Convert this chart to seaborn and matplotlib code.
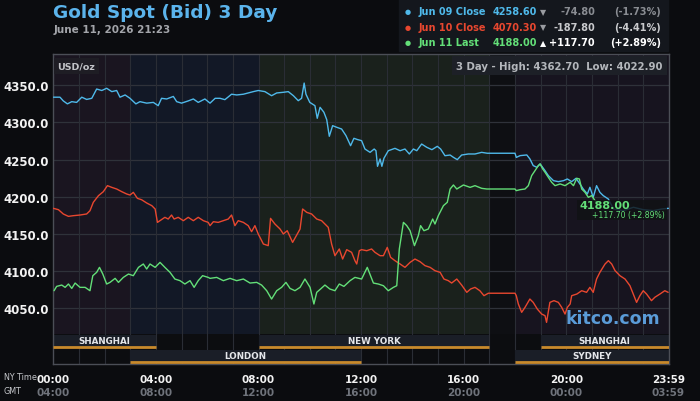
import matplotlib
matplotlib.use("Agg")
import matplotlib.pyplot as plt
import seaborn as sns
import pandas as pd
from matplotlib.patches import Rectangle

# --- data (hours after 00:00 NY time, price in USD/oz) ---
blue_hours = [0.0, 0.26, 0.39, 0.55, 0.72, 0.91, 1.11, 1.3, 1.5, 1.69, 1.89, 2.08, 2.28, 2.47, 2.6, 2.8, 2.99,
              3.22, 3.38, 3.64, 3.9, 4.09, 4.22, 4.42, 4.68, 4.81, 5.0, 5.26, 5.46, 5.65, 5.91, 6.11, 6.31, 6.5,
              6.69, 6.95, 7.15, 7.41, 7.8, 7.99, 8.25, 8.51, 8.71, 8.97, 9.16, 9.36, 9.55, 9.68, 9.78, 9.85, 10.0,
              10.2, 10.29, 10.4, 10.55, 10.66, 10.76, 10.89, 11.05, 11.24, 11.41, 11.59, 11.72, 11.86, 12.02, 12.15,
              12.35, 12.51, 12.58, 12.64, 12.74, 12.81, 12.89, 13.06, 13.32, 13.52, 13.71, 13.88, 14.04, 14.17,
              14.36, 14.56, 14.76, 14.97, 15.1, 15.27, 15.47, 15.6, 15.75, 15.92, 16.18, 16.44, 16.7, 16.92, 18.0,
              18.05, 18.2, 18.46, 18.58, 18.71, 18.85, 18.98, 19.17, 19.3, 19.5, 19.69, 19.89, 20.04, 20.21, 20.38,
              20.53, 20.66, 20.82, 20.92, 21.05, 21.18, 21.31, 21.44, 21.64, 21.84, 22.22, 22.62, 23.0, 23.39,
              23.72, 23.98]
blue_prices = [4334, 4334, 4329, 4325, 4328, 4327, 4334, 4331, 4332.5, 4345, 4343, 4346, 4341.5, 4343, 4334, 4337,
               4332.5, 4325, 4328, 4326, 4327, 4322.6, 4332.5, 4331.6, 4335, 4328, 4326, 4329, 4331.6, 4327, 4331.6,
               4326, 4332.5, 4332.5, 4330.7, 4338, 4337, 4338, 4341.5, 4343, 4341.5, 4336, 4339.7, 4340.6, 4341.5,
               4336, 4329.3, 4332.5, 4353, 4338, 4327, 4322.6, 4305.6, 4320.4, 4313.7, 4303.8, 4281.4, 4295.7,
               4293.5, 4291.2, 4282.3, 4268.8, 4278.7, 4277, 4275.5, 4264.3, 4259.8, 4264.3, 4262, 4241, 4250.9,
               4241, 4251.8, 4262, 4265.2, 4262, 4264.3, 4257.6, 4264.3, 4262, 4271, 4266.6, 4263.4, 4267.9, 4264.3,
               4255.3, 4256.2, 4253.1, 4250, 4256.2, 4257.6, 4257.6, 4259.8, 4258.6, 4258.6, 4253, 4255.4, 4256.3,
               4251, 4242, 4239.7, 4244.2, 4235.2, 4228.5, 4221.7, 4220.4, 4221.7, 4224, 4220.4, 4224.9, 4217.3,
               4210.5, 4203.8, 4212.8, 4199.3, 4215, 4206, 4201.6, 4197, 4183.6, 4181.4, 4185.9, 4182.7, 4181.4,
               4183.6, 4184.5]

red_hours = [0.0, 0.2, 0.39, 0.59, 0.78, 1.04, 1.3, 1.43, 1.56, 1.76, 1.95, 2.11, 2.28, 2.47, 2.67, 2.86, 2.99,
             3.12, 3.28, 3.44, 3.64, 3.84, 3.97, 4.06, 4.16, 4.35, 4.48, 4.61, 4.71, 4.87, 5.07, 5.26, 5.46, 5.65,
             5.85, 6.04, 6.11, 6.24, 6.43, 6.63, 6.82, 6.95, 7.08, 7.21, 7.41, 7.6, 7.73, 7.86, 7.99, 8.19, 8.38,
             8.47, 8.64, 8.84, 8.97, 9.12, 9.33, 9.49, 9.62, 9.72, 9.88, 10.07, 10.27, 10.46, 10.72, 10.85, 10.98,
             11.15, 11.28, 11.44, 11.63, 11.76, 11.83, 11.93, 12.02, 12.22, 12.41, 12.54, 12.74, 12.87, 13.02,
             13.15, 13.32, 13.52, 13.71, 13.91, 14.1, 14.3, 14.49, 14.69, 14.88, 15.08, 15.23, 15.4, 15.53, 15.73,
             15.92, 16.12, 16.27, 16.44, 16.63, 16.79, 16.96, 18.0, 18.05, 18.13, 18.26, 18.39, 18.58, 18.71,
             18.87, 19.04, 19.17, 19.23, 19.36, 19.52, 19.69, 19.82, 19.95, 20.04, 20.15, 20.21, 20.41, 20.6,
             20.79, 20.92, 21.05, 21.18, 21.31, 21.51, 21.64, 21.77, 21.9, 22.09, 22.29, 22.48, 22.61, 22.74,
             22.87, 23.0, 23.13, 23.32, 23.45, 23.65, 23.84, 23.97]
red_prices = [4184.5, 4182.7, 4176.9, 4173.7, 4174.6, 4175.5, 4176.9, 4181.3, 4192.6, 4201.5, 4206.9, 4215, 4212.7,
              4210.5, 4206.9, 4203.8, 4202.4, 4206, 4197.9, 4196.1, 4191.7, 4188.1, 4183.6, 4165.6, 4167.9, 4172.4,
              4170.1, 4175.5, 4170.1, 4172.4, 4167.9, 4172.4, 4167.9, 4172.4, 4167.9, 4165.6, 4161.2, 4166.5,
              4165.6, 4167.9, 4170.1, 4175.5, 4161.2, 4167.9, 4165.6, 4161.2, 4153.1, 4161.2, 4150, 4136.5, 4134.3,
              4171, 4163.4, 4156.7, 4150, 4154.4, 4138.7, 4148.6, 4156.7, 4183.6, 4179.1, 4176.9, 4170.1, 4167.9,
              4158.9, 4136.5, 4120.8, 4129.8, 4116.3, 4128.9, 4125.3, 4114.1, 4109.6, 4127.5, 4128.9, 4127.5,
              4129.8, 4125.3, 4120.8, 4120.8, 4132, 4118.6, 4114.1, 4109.6, 4105.1, 4111.8, 4116.3, 4112.7, 4107.4,
              4105.1, 4100.6, 4098.4, 4089.4, 4087.2, 4084, 4089.4, 4081.3, 4071.5, 4076, 4078.2, 4073.7, 4067,
              4070.3, 4070.3, 4067, 4055.8, 4044.6, 4051.3, 4062.5, 4058, 4049, 4042.3, 4040.1, 4031.1, 4058,
              4060.3, 4058, 4051.3, 4042.3, 4051.3, 4055.8, 4067, 4069.2, 4073.7, 4071.5, 4078.2, 4071.5, 4089.4,
              4098.4, 4109.6, 4114.1, 4109.6, 4100.7, 4093.9, 4089.4, 4080.5, 4069.2, 4058, 4067, 4073.7, 4069.2,
              4060.3, 4064.8, 4069.2, 4073.7, 4071.5]

green_hours = [0.03, 0.13, 0.33, 0.46, 0.59, 0.72, 0.85, 1.04, 1.24, 1.43, 1.54, 1.69, 1.8, 1.93, 2.08, 2.21, 2.41,
               2.54, 2.73, 2.93, 3.12, 3.32, 3.51, 3.64, 3.77, 3.97, 4.16, 4.35, 4.55, 4.74, 4.94, 5.13, 5.33, 5.49,
               5.65, 5.82, 6.04, 6.11, 6.37, 6.63, 6.89, 7.15, 7.41, 7.67, 7.93, 8.12, 8.32, 8.51, 8.71, 8.9, 9.07,
               9.23, 9.42, 9.62, 9.81, 10.01, 10.16, 10.27, 10.42, 10.59, 10.78, 10.98, 11.15, 11.33, 11.57, 11.76,
               12.02, 12.24, 12.48, 12.67, 12.87, 13.06, 13.26, 13.39, 13.49, 13.65, 13.78, 13.91, 14.08, 14.23,
               14.32, 14.45, 14.62, 14.79, 14.88, 15.01, 15.21, 15.36, 15.47, 15.6, 15.73, 15.99, 16.25, 16.44,
               16.7, 16.9, 18.0, 18.05, 18.2, 18.39, 18.52, 18.65, 18.78, 18.91, 18.98, 19.08, 19.17, 19.3, 19.43,
               19.56, 19.76, 19.95, 20.15, 20.28, 20.41, 20.51, 20.6, 20.73, 20.86, 20.99, 21.12, 21.25, 21.38]
green_prices = [4073.7, 4079.5, 4081.3, 4078.2, 4082.7, 4076.8, 4084, 4078.2, 4078.2, 4073.7, 4093.9, 4098.4,
                4105.1, 4096.1, 4082.7, 4084.9, 4090.3, 4084.9, 4091.6, 4096.1, 4093.9, 4105.1, 4109.6, 4102.9,
                4109.6, 4105.1, 4111.8, 4105.1, 4098.4, 4089.4, 4087.2, 4082.7, 4087.2, 4078.2, 4087.2, 4093.9,
                4091.6, 4090.3, 4091.6, 4087.2, 4090.3, 4087.2, 4089.4, 4084, 4084.9, 4081.3, 4073.7, 4062.5, 4073.7,
                4078.2, 4084.9, 4076.8, 4073.7, 4078.2, 4089.4, 4078.2, 4055.8, 4071.5, 4076, 4081.3, 4076, 4073.7,
                4082.7, 4079.5, 4087.2, 4091.6, 4089.4, 4105.1, 4084, 4082.7, 4080.4, 4073.7, 4078.2, 4080.4,
                4129.8, 4165.6, 4161.2, 4154.4, 4134.3, 4147.7, 4161.2, 4154.4, 4156.7, 4170.1, 4163.4, 4174.6,
                4188.1, 4192.6, 4210.5, 4215.9, 4210.5, 4215.9, 4212.7, 4215, 4211.4, 4210.5, 4210.5, 4208.3,
                4209.6, 4210.5, 4215, 4228.5, 4235.2, 4242, 4244.2, 4237.4, 4233, 4226.2, 4219.5, 4215, 4217.3,
                4215, 4219.5, 4215, 4224.9, 4224, 4210.5, 4206, 4199.3, 4201.6, 4194.8, 4190.3, 4188]

series_names = ["Jun 09 Close", "Jun 10 Close", "Jun 11 Last"]
series_colors = ["#4fb9ea", "#e8472f", "#63df78"]
last_values = ["4258.60", "4070.30", "4188.00"]
changes = ["-74.80", "-187.80", "+117.70"]
change_pcts = ["(-1.73%)", "(-4.41%)", "(+2.89%)"]

y_ticks = [4050, 4100, 4150, 4200, 4250, 4300, 4350]
ny_labels = ["00:00", "04:00", "08:00", "12:00", "16:00", "20:00", "23:59"]
gmt_labels = ["04:00", "08:00", "12:00", "16:00", "20:00", "00:00", "03:59"]
tick_hours = [0, 4, 8, 12, 16, 20, 23.983]

# background market phases (start hour, end hour, colour)
phases = [(0, 3, "#1a1520"), (3, 8, "#121826"), (8, 17, "#1a211c"), (17, 18, "#0e0f13"), (18, 24, "#17141f")]
# trading sessions (name, start, end, row)
sessions = [("SHANGHAI", 0, 4, 0), ("NEW YORK", 8, 17, 0), ("SHANGHAI", 19, 24, 0),
            ("LONDON", 3, 12, 1), ("SYDNEY", 18, 24, 1)]

df = pd.concat([
    pd.DataFrame({"hour": blue_hours, "price": blue_prices, "series": series_names[0]}),
    pd.DataFrame({"hour": red_hours, "price": red_prices, "series": series_names[1]}),
    pd.DataFrame({"hour": green_hours, "price": green_prices, "series": series_names[2]}),
])

sns.set_theme(style="dark")
plt.rcParams["font.family"] = ["DejaVu Sans"]

W, H = 700, 402
BG = "#0b0c0f"
fig = plt.figure(figsize=(7, 4.02), dpi=100, facecolor=BG)
ax = fig.add_axes([53.3 / W, 37 / H, 615.6 / W, 310 / H])
ax.set_facecolor("#0c0d10")


def fx(x):
    return x / W


def fy(y):
    return 1 - y / H


trans = ax.get_xaxis_transform()
row_top = 0.097
for h0, h1, c in phases:
    ax.add_patch(Rectangle((h0, row_top), h1 - h0, 1 - row_top, transform=trans, color=c, zorder=0, lw=0))

# grid
for v in y_ticks:
    ax.axhline(v, color="#2f323a", lw=0.9, zorder=1)
for hr in range(1, 24):
    ax.axvline(hr, color="#2a2d35", lw=0.8, zorder=1)

# session rows
for name, h0, h1, row in sessions:
    y0 = 0.052 if row == 0 else 0.003
    ax.add_patch(Rectangle((h0, y0), h1 - h0, 0.042, transform=trans, color="#1a1e27", zorder=2, lw=0))
    ax.plot([h0, h1], [y0 + 0.003, y0 + 0.003], transform=trans, color="#c98a2c", lw=2, zorder=3,
            solid_capstyle="butt")
    ax.text((h0 + h1) / 2, y0 + 0.023, name, transform=trans, ha="center", va="center",
            color="#e4e6ea", fontsize=6.3, fontweight="bold", zorder=4)

sns.lineplot(data=df, x="hour", y="price", hue="series", palette=series_colors, estimator=None,
             legend=False, lw=1.0, ax=ax, zorder=5)

ax.set_xlim(0, 24)
ax.set_ylim(3975.1, 4392.1)
ax.set_xlabel("")
ax.set_ylabel("")
ax.set_yticks(y_ticks, [f"{v:.1f}" for v in y_ticks])
ax.set_xticks(tick_hours, ny_labels)
ax.tick_params(axis="y", length=0, pad=3, labelsize=8.5, labelcolor="#f2f2f2")
ax.tick_params(axis="x", length=0, pad=7, labelsize=7.5, labelcolor="#f2f2f2")
for lab in ax.get_yticklabels() + ax.get_xticklabels():
    lab.set_fontweight("bold")
for hr, lab in zip(tick_hours, gmt_labels):
    ax.text(hr, -0.09, lab, transform=trans, ha="center", va="center", color="#6f737b",
            fontsize=7.5, fontweight="bold")
for s in ax.spines.values():
    s.set_color("#4b4e56")
    s.set_linewidth(1)

fig.text(fx(4), fy(378), "NY Time", color="#c6c8cc", fontsize=5.8, va="center")
fig.text(fx(4), fy(392), "GMT", color="#c6c8cc", fontsize=5.8, va="center")

# in-plot labels
ax.text(0.007, 0.962, "USD/oz", transform=ax.transAxes, ha="left", va="center", color="#c2c4c8",
        fontsize=6.8, fontweight="bold", zorder=6,
        bbox=dict(boxstyle="square,pad=0.35", fc="#1e1d24", ec="none"))
ax.text(0.99, 0.962, "3 Day - High: 4362.70  Low: 4022.90", transform=ax.transAxes, ha="right",
        va="center", color="#b4b7bc", fontsize=7.3, fontweight="bold", zorder=6,
        bbox=dict(boxstyle="square,pad=0.45", fc="#1d2027", ec="none"))
ax.add_patch(Rectangle((fx(577), fy(221)), 90 / W, 20 / H, transform=fig.transFigure, color="#101215",
                       alpha=0.82, zorder=6, lw=0))
fig.text(fx(580), fy(206), "4188.00", color=series_colors[2], fontsize=8, fontweight="bold",
         va="center", zorder=7)
fig.text(fx(665), fy(216), "+117.70 (+2.89%)", color=series_colors[2], fontsize=5.6, ha="right",
         va="center", zorder=7)
fig.text(fx(660), fy(319), "kitco.com", color="#5a9bd8", fontsize=12.5, fontweight="bold", ha="right",
         va="center", zorder=7)

# title block
fig.text(fx(53), fy(13), "Gold Spot (Bid) 3 Day", color="#5bb4ec", fontsize=13.3, fontweight="bold",
         va="center")
fig.text(fx(54), fy(30), "June 11, 2026 21:23", color="#a3a5aa", fontsize=7.5, fontweight="bold",
         va="center")

# legend box
fig.patches.append(Rectangle((fx(399), fy(52)), 269 / W, 52 / H, transform=fig.transFigure,
                             color="#14171d", zorder=0))
change_colors = ["#8a8d93", "#c9cacd", "#ffffff"]
arrows = ["\u25bc", "\u25bc", "\u25b2"]
for i, ry in enumerate([12.3, 27.7, 43.3]):
    c = series_colors[i]
    fig.text(fx(408), fy(ry), "\u25cf", color=c, fontsize=5, ha="center", va="center")
    fig.text(fx(419), fy(ry), series_names[i], color=c, fontsize=7, fontweight="bold", va="center")
    fig.text(fx(493), fy(ry), last_values[i], color=c, fontsize=7, fontweight="bold", va="center")
    fig.text(fx(543.5), fy(ry), arrows[i], color=change_colors[i] if i == 2 else "#9a9ca1", fontsize=5.8,
             ha="center", va="center")
    fig.text(fx(595), fy(ry), changes[i], color=change_colors[i], fontsize=7, fontweight="bold",
             ha="right", va="center")
    fig.text(fx(661), fy(ry), change_pcts[i], color=change_colors[i], fontsize=7, fontweight="bold",
             ha="right", va="center")

fig.savefig("out.png", dpi=100, facecolor=BG)
